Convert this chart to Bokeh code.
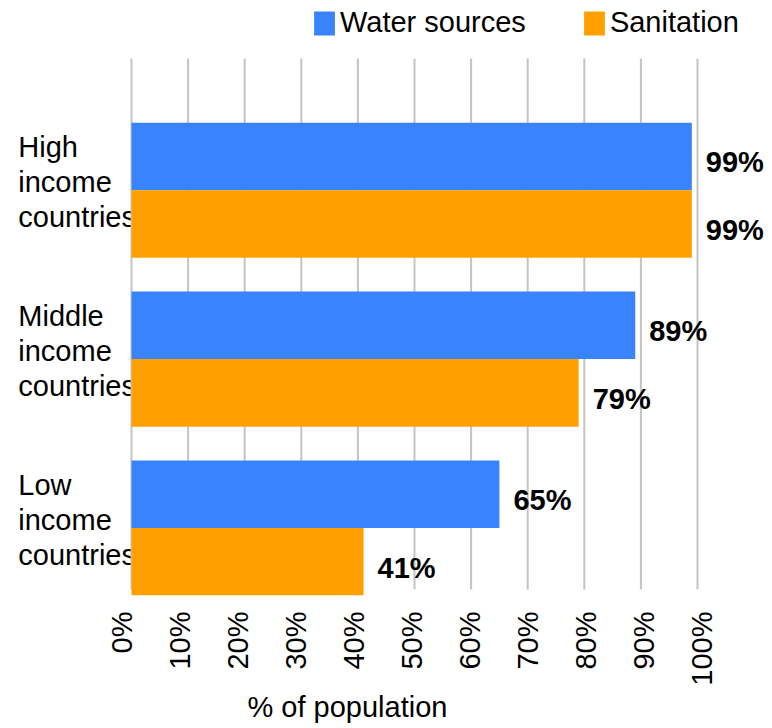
from bokeh.plotting import figure
from bokeh.models import (ColumnDataSource, Range1d, Label, LinearAxis, Title,
                          Legend, LegendItem, FixedTicker, CustomJSTickFormatter)
from bokeh.core.properties import value
from bokeh.embed import file_html
from bokeh.resources import INLINE
import math

categories = ["High income countries", "Middle income countries", "Low income countries"]
water = [99, 89, 65]
sanitation = [99, 79, 41]
series_names = ["Water sources", "Sanitation"]
tick_values = [0, 10, 20, 30, 40, 50, 60, 70, 80, 90, 100]
x_title = "% of population"

BLUE = "#3a83ff"
ORANGE = "#ffa000"
FONT = "Liberation Sans"
FS = "29px"

n = len(categories)
ypos = [n - 1 - i for i in range(n)]

src = ColumnDataSource(dict(
    y=ypos, water=water, san=sanitation,
    yw=[y + 0.2 for y in ypos], ys=[y - 0.2 for y in ypos],
    wl=[f"{v}%" for v in water], sl=[f"{v}%" for v in sanitation],
))

PXU = 5.66  # px per percent
X0 = -131 / PXU
X1 = X0 + 772 / PXU
p = figure(width=772, height=728, output_backend="svg", toolbar_location=None,
           x_range=Range1d(X0, X1), y_range=Range1d(-0.4, 3.1235),
           x_axis_type=None, y_axis_type=None,
           min_border_left=0, min_border_right=0, min_border_top=0, min_border_bottom=133)
p.outline_line_color = None
p.background_fill_color = "white"
p.border_fill_color = "white"
p.xgrid.visible = False
p.ygrid.visible = False

# grid lines within the plot area
gsrc = ColumnDataSource(dict(x=tick_values))
p.segment(x0="x", x1="x", y0=-0.364, y1=2.78, source=gsrc, line_color="#c4c4c4", line_width=2)

rw = p.hbar(y="yw", right="water", left=0, height=0.4, source=src, color=BLUE, line_width=0)
rs = p.hbar(y="ys", right="san", left=0, height=0.4, source=src, color=ORANGE, line_width=0)

# tick label axis (labels spread a little wider than the grid, as in the original)
LPXU = 5.795
LX0 = -121.5 / LPXU
p.extra_x_ranges = {"lab": Range1d(LX0, LX0 + 772 / LPXU)}
ax = LinearAxis(x_range_name="lab", ticker=FixedTicker(ticks=tick_values))
ax.formatter = CustomJSTickFormatter(code="return tick + '%';")
ax.major_label_orientation = math.pi / 2
ax.major_label_text_font = FONT
ax.major_label_text_font_size = FS
ax.major_label_text_color = "black"
ax.major_label_standoff = 16
ax.axis_line_color = None
ax.major_tick_line_color = None
ax.minor_tick_line_color = None
ax.major_tick_out = 0
ax.major_tick_in = 0
p.add_layout(ax, "below")

# axis title
p.add_layout(Title(text=x_title, align="left", offset=247, standoff=0,
                   text_font=FONT, text_font_size=FS, text_font_style="normal",
                   text_color="black"), "below")

# value labels
p.text(x="water", y="yw", text="wl", source=src, x_offset=14, y_offset=6,
       text_font=value(FONT), text_font_size=FS, text_font_style="bold",
       text_baseline="middle", text_color="black")
p.text(x="san", y="ys", text="sl", source=src, x_offset=14, y_offset=6,
       text_font=value(FONT), text_font_size=FS, text_font_style="bold",
       text_baseline="middle", text_color="black")

# category labels
for cat, y in zip(categories, ypos):
    words = cat.split(" ")
    for j, w in enumerate(words):
        lab = Label(x=-20, y=y, text=w, y_offset=8 - (j - 1) * 35,
                    text_font=FONT, text_font_size=FS, text_baseline="alphabetic",
                    text_color="black", level="underlay")
        p.add_layout(lab)

legend = Legend(items=[LegendItem(label=series_names[0], renderers=[rw]),
                       LegendItem(label=series_names[1], renderers=[rs])],
                location=(311, 556), orientation="horizontal",
                glyph_width=26, glyph_height=30, label_standoff=3, spacing=55,
                padding=0, margin=0, border_line_color=None, background_fill_alpha=0,
                label_text_font=FONT, label_text_font_size=FS, label_text_color="black")
p.add_layout(legend)

open("out.html", "w").write(file_html(p, INLINE))
